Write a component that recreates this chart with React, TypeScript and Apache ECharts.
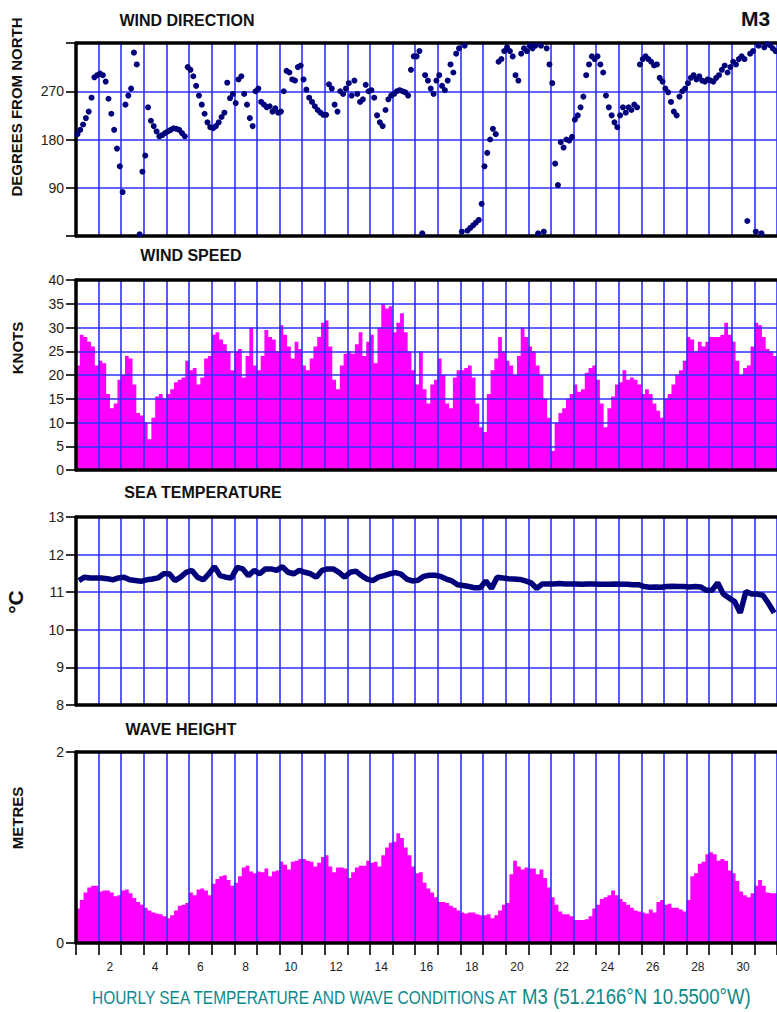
import React, { useEffect, useRef } from 'react';
import * as echarts from 'echarts';

// ---------- data ----------
const DAYS = Array.from({ length: 31 }, (_, i) => String(i + 1));

// wind direction, degrees from north, 8 readings per day (3-hourly)
const windDir = [
  190, 198, 208, 220, 232, 258, 296, 300,
  303, 300, 288, 256, 228, 198, 163, 130,
  82, 245, 262, 275, 342, 320, 3, 120,
  150, 240, 215, 205, 195, 186, 188, 192,
  195, 198, 201, 200, 198, 192, 186, 315,
  310, 298, 280, 262, 245, 228, 212, 203,
  201, 205, 212, 222, 230, 286, 257, 265,
  248, 292, 298, 265, 245, 220, 205, 270,
  275, 250, 245, 240, 242, 232, 238, 230,
  232, 270, 308, 305, 292, 290, 315, 318,
  292, 273, 258, 250, 242, 235, 230, 226,
  226, 283, 275, 245, 232, 270, 265, 275,
  285, 262, 290, 265, 250, 255, 282, 270,
  272, 258, 225, 212, 205, 235, 255, 262,
  265, 270, 272, 270, 268, 262, 310, 335,
  335, 345, 5, 300, 290, 275, 265, 290,
  300, 280, 272, 290, 320, 305, 340, 350,
  8, 355, 10, 15, 20, 25, 30, 60,
  130, 155, 180, 200, 190, 325, 330, 345,
  352, 345, 335, 300, 290, 340, 350, 345,
  355, 350, 355, 5, 355, 8, 350, 320,
  285, 135, 95, 175, 165, 180, 178, 185,
  217, 225, 240, 260, 300, 320, 335, 330,
  335, 320, 305, 262, 240, 225, 212, 203,
  225, 240, 230, 240, 235, 245, 240, 320,
  330, 335, 330, 325, 318, 320, 295, 288,
  275, 268, 250, 232, 225, 260, 270, 275,
  285, 295, 300, 292, 298, 290, 288, 292,
  290, 288, 295, 300, 310, 318, 305, 315,
  325, 320, 330, 335, 330, 28, 340, 345,
  8, 355, 5, 352, 358, 356, 350, 345,
];

// wind speed, knots, 6 readings per day
const windSpeed = [
  22, 28.5, 28, 27, 26, 22,
  23, 22.5, 16, 13, 14, 19,
  20, 24, 23.5, 18, 12, 11.5,
  10, 6.5, 11, 15.5, 16, 15,
  16, 17, 18.5, 19, 19.5, 23,
  21, 21.5, 18, 19.5, 23.5, 24,
  28.5, 29, 27.5, 26.5, 25, 21,
  25, 25.5, 19.5, 24, 30, 22,
  21, 24, 29.5, 28, 27.5, 25,
  30.5, 28.5, 26, 23.5, 27, 25.5,
  22, 21, 23.5, 26, 28, 31,
  31.5, 26, 19, 17, 22, 24.5,
  25, 24.5, 26.5, 29, 24, 27,
  28.5, 22.5, 30, 35, 34, 34.5,
  29, 31, 33, 29, 25, 21,
  18, 25, 17, 14, 18, 19,
  23.5, 20, 14, 13, 19.5, 21,
  21, 21.5, 22, 19.5, 14, 9,
  8, 16, 21, 23.5, 28, 25,
  23, 22, 20, 24, 30, 28,
  26, 25, 22, 20, 15, 11,
  4, 10, 12, 13, 15, 16,
  18, 16.5, 17, 20.5, 21.5, 22,
  19, 14, 9, 13, 15.5, 18,
  18.5, 21, 19, 19.5, 19, 18,
  16, 17, 16, 14, 12.5, 11,
  15, 16, 18, 20, 21, 23,
  28, 27.5, 25, 27, 26, 27,
  28, 28, 28, 28.5, 31, 28.5,
  27, 23, 20, 21.5, 22, 26,
  31, 30.5, 28, 25.5, 25, 24,
];

// sea temperature, °C, 4 readings per day
const seaTemp = [
  11.31, 11.40, 11.38, 11.38,
  11.38, 11.36, 11.33, 11.38,
  11.40, 11.33, 11.31, 11.29,
  11.33, 11.35, 11.38, 11.49,
  11.49, 11.31, 11.40, 11.53,
  11.58, 11.40, 11.33, 11.49,
  11.68, 11.44, 11.40, 11.38,
  11.66, 11.62, 11.44, 11.58,
  11.49, 11.62, 11.62, 11.58,
  11.68, 11.53, 11.49, 11.58,
  11.53, 11.49, 11.40, 11.58,
  11.62, 11.62, 11.53, 11.40,
  11.53, 11.56, 11.44, 11.35,
  11.31, 11.40, 11.44, 11.49,
  11.52, 11.48, 11.35, 11.30,
  11.32, 11.42, 11.45, 11.45,
  11.42, 11.35, 11.30, 11.20,
  11.18, 11.15, 11.12, 11.12,
  11.30, 11.10, 11.40, 11.38,
  11.36, 11.35, 11.34, 11.30,
  11.25, 11.10, 11.22, 11.22,
  11.22, 11.23, 11.22, 11.22,
  11.22, 11.21, 11.22, 11.22,
  11.21, 11.21, 11.21, 11.22,
  11.21, 11.21, 11.20, 11.20,
  11.15, 11.13, 11.14, 11.13,
  11.15, 11.16, 11.15, 11.15,
  11.14, 11.15, 11.14, 11.05,
  11.05, 11.25, 10.95, 10.85,
  10.75, 10.45, 11.02, 10.95,
  10.95, 10.92, 10.70, 10.45,
];

// wave height, metres, 6 readings per day
const waveHeight = [
  0.36, 0.45, 0.53, 0.58, 0.6, 0.6,
  0.54, 0.55, 0.55, 0.53, 0.49, 0.5,
  0.55, 0.56, 0.52, 0.47, 0.43, 0.4,
  0.37, 0.34, 0.32, 0.31, 0.3, 0.28,
  0.26, 0.29, 0.34, 0.39, 0.4, 0.42,
  0.53, 0.5, 0.56, 0.57, 0.55, 0.5,
  0.62, 0.67, 0.7, 0.71, 0.66, 0.6,
  0.63, 0.7, 0.79, 0.81, 0.75, 0.73,
  0.75, 0.74, 0.78, 0.7, 0.75, 0.76,
  0.85, 0.82, 0.77, 0.85, 0.86, 0.88,
  0.88, 0.86, 0.85, 0.8, 0.84, 0.9,
  0.92, 0.8, 0.74, 0.79, 0.79, 0.78,
  0.68, 0.74, 0.79, 0.81, 0.81, 0.86,
  0.84, 0.85, 0.8, 0.92, 1.0, 1.05,
  1.06, 1.15, 1.1, 1.0, 0.92, 0.8,
  0.73, 0.74, 0.63, 0.57, 0.53, 0.48,
  0.43, 0.43, 0.42, 0.39, 0.37, 0.34,
  0.32, 0.31, 0.32, 0.32, 0.3, 0.29,
  0.29, 0.3, 0.26, 0.29, 0.34, 0.4,
  0.42, 0.72, 0.86, 0.8, 0.77, 0.79,
  0.78, 0.78, 0.72, 0.77, 0.68, 0.58,
  0.48, 0.4, 0.33, 0.3, 0.3, 0.28,
  0.24, 0.24, 0.24, 0.25, 0.28, 0.36,
  0.4, 0.46, 0.48, 0.5, 0.55, 0.5,
  0.46, 0.43, 0.4, 0.37, 0.34, 0.33,
  0.32, 0.31, 0.35, 0.32, 0.43, 0.45,
  0.4, 0.41, 0.37, 0.37, 0.35, 0.33,
  0.45, 0.7, 0.73, 0.83, 0.85, 0.93,
  0.95, 0.93, 0.86, 0.88, 0.86, 0.76,
  0.73, 0.65, 0.54, 0.5, 0.48, 0.52,
  0.6, 0.66, 0.6, 0.53, 0.52, 0.52,
];

const TITLES = ['WIND DIRECTION', 'WIND SPEED', 'SEA TEMPERATURE', 'WAVE HEIGHT'];
const Y_NAMES = ['DEGREES FROM NORTH', 'KNOTS', '°C', 'METRES'];
const FOOTER_A = 'HOURLY SEA TEMPERATURE AND WAVE CONDITIONS AT ';
const FOOTER_B = 'M3 (51.2166°N 10.5500°W)';

// ---------- styling ----------
const BLUE = '#3030ff';
const MAGENTA = '#ff00ff';
const NAVY = '#00007a';
const TEAL = '#0b8989';
const FONT = "'Liberation Sans', Arial, sans-serif";

const GRIDS = [
  { top: 43, height: 193 },
  { top: 280, height: 190 },
  { top: 517, height: 188 },
  { top: 752, height: 191 },
];
const Y_RANGES = [
  { min: 0, max: 360, interval: 90 },
  { min: 0, max: 40, interval: 5 },
  { min: 8, max: 13, interval: 1 },
  { min: 0, max: 2, interval: 2 },
];

function stepData(vals: number[], perDay: number) {
  const d = vals.map((v, i) => [i / perDay, v]);
  d.push([31, vals[vals.length - 1]]);
  return d;
}

function buildOption() {
  const grid = GRIDS.map((g) => ({ left: 76, width: 706, top: g.top, height: g.height }));
  const xAxis: any[] = [];
  GRIDS.forEach((_, i) => {
    xAxis.push({
      type: 'value', gridIndex: i, min: 0, max: 31, interval: 1, position: 'bottom', z: 3,
      axisLine: { show: true, onZero: false, lineStyle: { color: '#000', width: 3.5 } },
      axisTick: { show: i === 3, length: 12, lineStyle: { color: '#000', width: 1.6 } },
      axisLabel: { show: false },
      splitLine: { show: true, lineStyle: { color: BLUE, width: 1.6 } },
    });
    xAxis.push({
      type: 'value', gridIndex: i, min: 0, max: 31, position: 'top', z: 3,
      axisLine: { show: true, onZero: false, lineStyle: { color: '#000', width: 3.5 } },
      axisTick: { show: false }, axisLabel: { show: false }, splitLine: { show: false },
    });
  });
  xAxis.push({
    type: 'category', gridIndex: 3, data: DAYS, boundaryGap: true, position: 'bottom',
    axisLine: { show: false }, axisTick: { show: false }, splitLine: { show: false },
    axisLabel: {
      interval: (idx: number) => idx % 2 === 1,
      margin: 18, fontSize: 12, color: '#222', fontFamily: FONT,
    },
  });

  const yAxis = Y_RANGES.map((r, i) => ({
    type: 'value', gridIndex: i, min: r.min, max: r.max, interval: r.interval, z: 3,
    axisLine: { show: true, lineStyle: { color: '#000', width: 3.5 } },
    axisTick: { show: true, length: 10, lineStyle: { color: '#000', width: 1.6 } },
    axisLabel: {
      margin: 12, fontSize: 14, color: '#222', fontFamily: FONT,
      formatter: (v: number) => (i === 0 && (v === 0 || v === 360) ? '' : String(v)),
    },
    splitLine: { show: i !== 3, lineStyle: { color: BLUE, width: 1.6 } },
  }));

  const series: any[] = [
    {
      type: 'scatter', xAxisIndex: 0, yAxisIndex: 0, z: 5,
      data: windDir.map((v, i) => [(i + 0.5) / 8, v]),
      symbolSize: 6, itemStyle: { color: NAVY, opacity: 1 },
    },
    {
      type: 'line', xAxisIndex: 2, yAxisIndex: 1, z: 1, step: 'end', symbol: 'none',
      data: stepData(windSpeed, 6),
      lineStyle: { width: 0, color: MAGENTA }, areaStyle: { color: MAGENTA, opacity: 1 },
    },
    {
      type: 'line', xAxisIndex: 4, yAxisIndex: 2, z: 5, symbol: 'none',
      data: seaTemp.map((v, i) => [(i + 0.5) / 4, v]),
      lineStyle: { width: 5.5, color: NAVY },
    },
    {
      type: 'line', xAxisIndex: 6, yAxisIndex: 3, z: 1, step: 'end', symbol: 'none',
      data: stepData(waveHeight, 6),
      lineStyle: { width: 0, color: MAGENTA }, areaStyle: { color: MAGENTA, opacity: 1 },
    },
  ];

  const titlePos = [
    [187, 20], [191, 255], [203, 492], [181, 729],
  ];
  const namePos = [
    [16.5, 107, 15], [17, 348, 15], [15, 602, 21], [17, 818, 15],
  ];
  const graphic: any[] = [];
  TITLES.forEach((t, i) => {
    graphic.push({
      type: 'text', x: titlePos[i][0], y: titlePos[i][1],
      style: { text: t, fill: '#111', font: `bold 16px ${FONT}`, textAlign: 'center', textVerticalAlign: 'middle' },
    });
  });
  Y_NAMES.forEach((t, i) => {
    graphic.push({
      type: 'text', x: namePos[i][0], y: namePos[i][1], rotation: Math.PI / 2,
      style: { text: t, fill: '#111', font: `bold ${namePos[i][2]}px ${FONT}`, textAlign: 'center', textVerticalAlign: 'middle' },
    });
  });
  graphic.push({
    type: 'text', x: 741, y: 18,
    style: { text: 'M3', fill: '#111', font: `bold 21px ${FONT}`, textAlign: 'left', textVerticalAlign: 'middle' },
  });
  graphic.push({
    type: 'text', x: 92, y: 998, scaleX: 0.86,
    style: { text: FOOTER_A, fill: TEAL, font: `18px ${FONT}`, textAlign: 'left', textVerticalAlign: 'middle' },
  });
  graphic.push({
    type: 'text', x: 522, y: 996, scaleX: 0.845,
    style: { text: FOOTER_B, fill: TEAL, font: `22px ${FONT}`, textAlign: 'left', textVerticalAlign: 'middle' },
  });

  return {
    animation: false,
    backgroundColor: '#fff',
    grid, xAxis, yAxis, series, graphic,
  };
}

export default function App() {
  const ref = useRef<HTMLDivElement>(null);
  useEffect(() => {
    const chart = echarts.init(ref.current as HTMLDivElement, null, { renderer: 'svg' });
    chart.setOption(buildOption() as any);
    return () => chart.dispose();
  }, []);
  return (
    <div
      ref={ref}
      style={{ position: 'absolute', left: 0, top: 0, width: 777, height: 1012, overflow: 'hidden' }}
    />
  );
}
